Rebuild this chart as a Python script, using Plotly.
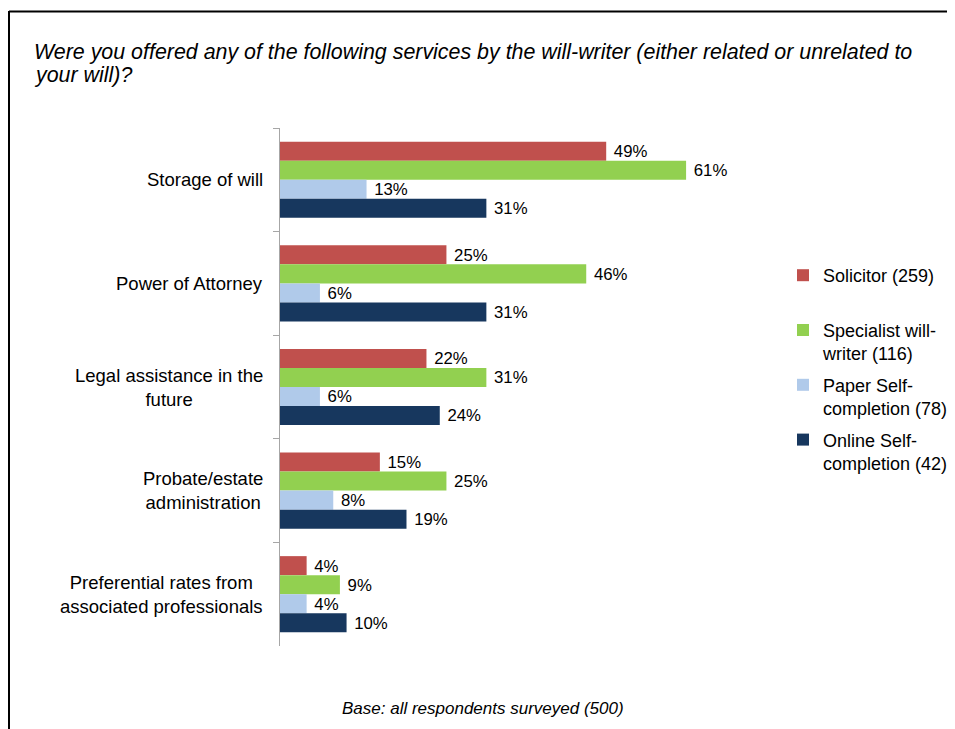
import plotly.graph_objects as go

categories = ["Storage of will", "Power of Attorney", "Legal assistance in the future",
              "Probate/estate administration", "Preferential rates from associated professionals"]
category_labels = ["Storage of will", "Power of Attorney", "Legal assistance in the<br>future",
                   "Probate/estate<br>administration", "Preferential rates from<br>associated professionals"]
series_names = ["Solicitor (259)<br>\u00a0", "Specialist will-<br>writer (116)",
                "Paper Self-<br>completion (78)", "Online Self-<br>completion (42)"]
solicitor = [49, 25, 22, 15, 4]
specialist = [61, 46, 31, 25, 9]
paper = [13, 6, 6, 8, 4]
online = [31, 31, 24, 19, 10]
colors = ["#C0504D", "#92D050", "#B0CAEA", "#17375E"]

FONT = "Liberation Sans, Arial, sans-serif"
# the page body adds an 8px margin, so the figure is slightly smaller than the window
W, H = 947, 721
L, T = 272, 120
PLOT_RIGHT, PLOT_BOTTOM = 738, 638
R, B = W - PLOT_RIGHT, H - PLOT_BOTTOM
PW, PH = W - L - R, H - T - B

def px(x):
    return (x - L) / PW

def py(y):
    return (H - B - y) / PH

fig = go.Figure()
for name, vals, col in zip(series_names, [solicitor, specialist, paper, online], colors):
    fig.add_trace(go.Bar(
        y=categories, x=vals, orientation="h", name=name,
        marker=dict(color=col, line=dict(width=0)),
        text=[f"\u00a0{v}%" for v in vals], textposition="outside",
        textfont=dict(family=FONT, size=18.5, color="#000000"),
        cliponaxis=False, legendgroup=name,
    ))

annotations = []
for cat, lab in zip(categories, category_labels):
    annotations.append(dict(
        x=px(257), xref="paper", y=cat, yref="y", text=lab, showarrow=False,
        xanchor="right", yanchor="middle", align="center",
        font=dict(family=FONT, size=18.5, color="#000000")))

title_lines = ["Were you offered any of the following services by the will-writer (either related or unrelated to",
               "your will)?"]
for line, yc in zip(title_lines, [44, 67]):
    annotations.append(dict(
        x=px(24), xref="paper", y=py(yc), yref="paper", showarrow=False,
        xanchor="left", yanchor="middle", align="left",
        text=f"<i>{line}</i>",
        font=dict(family=FONT, size=21.4, color="#000000")))
annotations.append(dict(
    x=px(475), xref="paper", y=py(700), yref="paper", showarrow=False,
    xanchor="center", yanchor="middle",
    text="<i>Base: all respondents surveyed (500)</i>",
    font=dict(family=FONT, size=17, color="#000000")))

shapes = [
    dict(type="line", xref="paper", yref="paper", x0=px(1), x1=px(960), y0=py(3.5), y1=py(3.5),
         line=dict(color="#000000", width=2)),
    dict(type="line", xref="paper", yref="paper", x0=px(1), x1=px(1), y0=py(3), y1=py(740),
         line=dict(color="#000000", width=2)),
]

fig.update_layout(
    width=W, height=H,
    margin=dict(l=L, r=R, t=T, b=B, autoexpand=False),
    paper_bgcolor="#FFFFFF", plot_bgcolor="#FFFFFF",
    barmode="group", bargap=0.265, bargroupgap=0,
    font=dict(family=FONT, size=18.5, color="#000000"),
    xaxis=dict(range=[0, 70], visible=False, showgrid=False, zeroline=False),
    yaxis=dict(autorange="reversed", showticklabels=False, showline=True, linecolor="#A6A6A6",
               linewidth=1, ticks="outside", tickson="boundaries", ticklen=6, tickcolor="#A6A6A6",
               showgrid=False, zeroline=False),
    legend=dict(x=px(775), y=py(249), xanchor="left", yanchor="top",
                font=dict(family=FONT, size=18, color="#000000"),
                valign="top", traceorder="grouped", tracegroupgap=5,
                itemwidth=30, bgcolor="rgba(0,0,0,0)"),
    annotations=annotations, shapes=shapes,
    showlegend=True,
)

fig.write_html("out.html")
